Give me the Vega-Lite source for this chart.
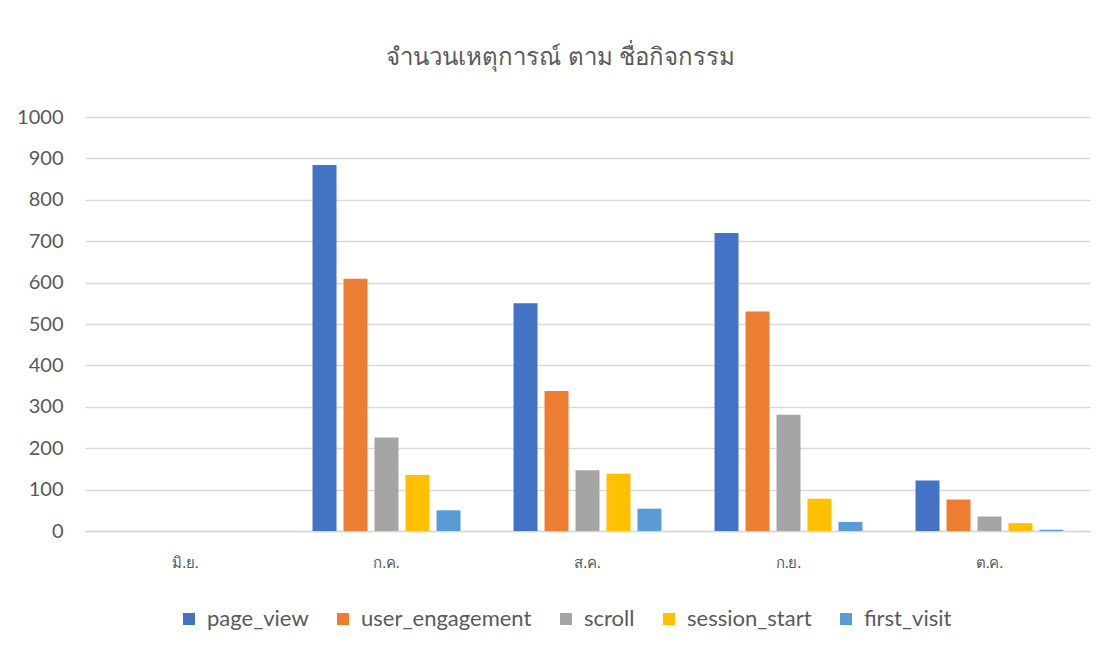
{
  "$schema": "https://vega.github.io/schema/vega-lite/v6.json",
  "width": 1005,
  "height": 414,
  "autosize": {"type": "none"},
  "padding": {"left": 85, "top": 117, "right": 18, "bottom": 119},
  "background": "white",
  "title": {
    "text": "จำนวนเหตุการณ์ ตาม ชื่อกิจกรรม",
    "fontSize": 24,
    "font": "Lato, 'Noto Sans', sans-serif",
    "fontWeight": "normal",
    "color": "#595959",
    "anchor": "middle",
    "offset": 37,
    "dx": -27
  },
  "data": {
    "values": [
      {"month": "มิ.ย.", "event": "page_view", "count": 0},
      {"month": "มิ.ย.", "event": "user_engagement", "count": 0},
      {"month": "มิ.ย.", "event": "scroll", "count": 0},
      {"month": "มิ.ย.", "event": "session_start", "count": 0},
      {"month": "มิ.ย.", "event": "first_visit", "count": 0},
      {"month": "ก.ค.", "event": "page_view", "count": 884},
      {"month": "ก.ค.", "event": "user_engagement", "count": 609},
      {"month": "ก.ค.", "event": "scroll", "count": 226},
      {"month": "ก.ค.", "event": "session_start", "count": 135},
      {"month": "ก.ค.", "event": "first_visit", "count": 50},
      {"month": "ส.ค.", "event": "page_view", "count": 550},
      {"month": "ส.ค.", "event": "user_engagement", "count": 338},
      {"month": "ส.ค.", "event": "scroll", "count": 147},
      {"month": "ส.ค.", "event": "session_start", "count": 138},
      {"month": "ส.ค.", "event": "first_visit", "count": 54},
      {"month": "ก.ย.", "event": "page_view", "count": 720},
      {"month": "ก.ย.", "event": "user_engagement", "count": 530},
      {"month": "ก.ย.", "event": "scroll", "count": 281},
      {"month": "ก.ย.", "event": "session_start", "count": 78},
      {"month": "ก.ย.", "event": "first_visit", "count": 22},
      {"month": "ต.ค.", "event": "page_view", "count": 122},
      {"month": "ต.ค.", "event": "user_engagement", "count": 76},
      {"month": "ต.ค.", "event": "scroll", "count": 35},
      {"month": "ต.ค.", "event": "session_start", "count": 19},
      {"month": "ต.ค.", "event": "first_visit", "count": 3}
    ]
  },
  "mark": {"type": "bar"},
  "encoding": {
    "x": {
      "field": "month",
      "type": "nominal",
      "sort": ["มิ.ย.", "ก.ค.", "ส.ค.", "ก.ย.", "ต.ค."],
      "scale": {"paddingInner": 0.264, "paddingOuter": 0.132},
      "axis": {
        "title": null,
        "labelAngle": 0,
        "labelFontSize": 15,
        "labelColor": "#595959",
        "labelFont": "Lato, 'Noto Sans', sans-serif",
        "labelPadding": 24,
        "ticks": false,
        "domainColor": "#d9d9d9",
        "domainWidth": 1.5
      }
    },
    "xOffset": {
      "field": "event",
      "type": "nominal",
      "sort": ["page_view", "user_engagement", "scroll", "session_start", "first_visit"],
      "scale": {"paddingInner": 0.226, "paddingOuter": 0}
    },
    "y": {
      "field": "count",
      "type": "quantitative",
      "scale": {"domain": [0, 1000], "nice": false},
      "axis": {
        "title": null,
        "values": [0, 100, 200, 300, 400, 500, 600, 700, 800, 900, 1000],
        "format": "d",
        "labelFontSize": 20,
        "labelColor": "#595959",
        "labelFont": "Lato, 'Noto Sans', sans-serif",
        "labelPadding": 22,
        "ticks": false,
        "domain": false,
        "gridColor": "#d9d9d9",
        "gridWidth": 1.5
      }
    },
    "color": {
      "field": "event",
      "type": "nominal",
      "sort": ["page_view", "user_engagement", "scroll", "session_start", "first_visit"],
      "scale": {
        "domain": ["page_view", "user_engagement", "scroll", "session_start", "first_visit"],
        "range": ["#4472C4", "#ED7D31", "#A5A5A5", "#FFC000", "#5B9BD5"]
      },
      "legend": {
        "title": null,
        "orient": "none",
        "legendX": 93,
        "legendY": 491,
        "direction": "horizontal",
        "symbolType": "square",
        "symbolSize": 144,
        "symbolStrokeWidth": 0,
        "labelFontSize": 22,
        "labelColor": "#595959",
        "labelFont": "Lato, 'Noto Sans', sans-serif",
        "labelOffset": 7,
        "labelLimit": 400,
        "columnPadding": 23
      }
    }
  },
  "config": {
    "view": {"stroke": null}
  }
}
